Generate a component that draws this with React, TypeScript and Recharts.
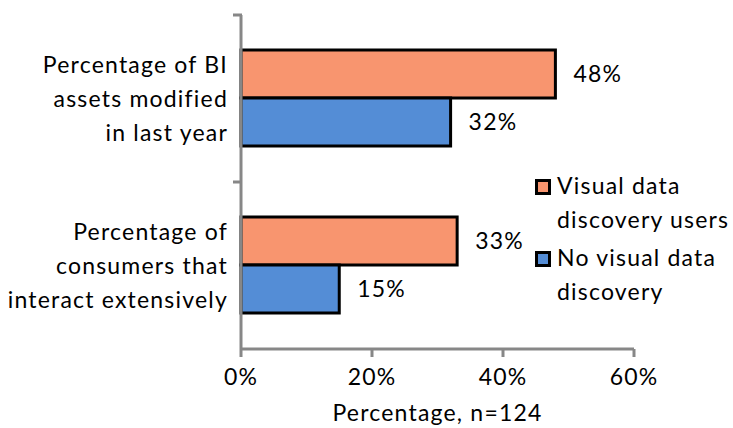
import React from 'react';
import { BarChart, Bar, XAxis, YAxis, Legend, LabelList } from 'recharts';

const categories = [
  ['Percentage of BI', 'assets modified', 'in last year'],
  ['Percentage of', 'consumers that', 'interact extensively'],
];
const visualUsers = [48, 33];
const noVisual = [32, 15];
const seriesNames = ['Visual data discovery users', 'No visual data discovery'];
const legendLines = [
  ['Visual data', 'discovery users'],
  ['No visual data', 'discovery'],
];
const xTicks = [0, 20, 40, 60];

const data = categories.map((c, i) => ({
  name: c.join(' '),
  lines: c,
  v: visualUsers[i],
  n: noVisual[i],
}));

const FONT = 'Lato, "Open Sans", sans-serif';
const FS = 23;
const LS = 1.2;
const AXIS = '#878787';
const COLORS = ['#F8956F', '#548DD6'];

const YTick = (props: any) => {
  const { x, y, index } = props;
  const lines: string[] = categories[index] || [];
  const half = 167 / 2;
  return (
    <g>
      <line x1={x + 5} x2={x + 14} y1={y - half} y2={y - half} stroke={AXIS} strokeWidth={3} />
      <text x={x} y={y} textAnchor="end" fontFamily={FONT} fontSize={FS} letterSpacing={LS} fill="#000">
        {lines.map((l, i) => (
          <tspan key={i} x={x} y={y + (i - 1) * 34} dy="0.35em">{l}</tspan>
        ))}
      </text>
    </g>
  );
};

const LegendContent = () => (
  <div style={{ fontFamily: FONT, fontSize: FS, letterSpacing: LS, color: '#000', lineHeight: '34px' }}>
    {seriesNames.map((s, i) => (
      <div key={s} style={{ position: 'relative', paddingLeft: 24, marginBottom: i === 0 ? 4 : 0 }}>
        <span style={{ position: 'absolute', left: 2, top: 11, width: 10, height: 10, background: COLORS[i], border: '3px solid #000' }} />
        {legendLines[i].map((l) => (<div key={l} style={{ whiteSpace: 'nowrap' }}>{l}</div>))}
      </div>
    ))}
  </div>
);

export default function App() {
  return (
    <div style={{ position: 'absolute', left: 0, top: 0, background: '#fff' }}>
      <BarChart
        width={733}
        height={428}
        data={data}
        layout="vertical"
        margin={{ top: 15, right: 99, left: 0, bottom: 0 }}
        barCategoryGap="21%"
        barGap={0}
      >
        <XAxis
          type="number"
          domain={[0, 60]}
          ticks={xTicks}
          tickFormatter={(v: number) => `${v}%`}
          axisLine={{ stroke: AXIS, strokeWidth: 3 }}
          tickLine={{ stroke: AXIS, strokeWidth: 3 }}
          tickSize={8}
          tickMargin={12}
          height={79}
          tick={{ fontFamily: FONT, fontSize: FS, letterSpacing: LS, fill: '#000' }}
          label={{ value: 'Percentage, n=124', position: 'insideBottom', offset: 7, fontFamily: FONT, fontSize: FS, letterSpacing: LS, fill: '#000' }}
        />
        <YAxis
          type="category"
          dataKey="name"
          width={241}
          axisLine={{ stroke: AXIS, strokeWidth: 3 }}
          tickLine={false}
          tickSize={0}
          tickMargin={13}
          tick={<YTick />}
          interval={0}
        />
        <Legend
          layout="vertical"
          align="center"
          verticalAlign="middle"
          content={<LegendContent />}
          wrapperStyle={{ left: 533, top: 168, width: 200 }}
        />
        <Bar dataKey="v" name={seriesNames[0]} fill={COLORS[0]} stroke="#000" strokeWidth={3} isAnimationActive={false}>
          <LabelList dataKey="v" position="right" offset={18} formatter={(v: any) => `${v}%`} style={{ fontFamily: FONT, fontSize: FS, letterSpacing: LS, fill: '#000' }} />
        </Bar>
        <Bar dataKey="n" name={seriesNames[1]} fill={COLORS[1]} stroke="#000" strokeWidth={3} isAnimationActive={false}>
          <LabelList dataKey="n" position="right" offset={18} formatter={(v: any) => `${v}%`} style={{ fontFamily: FONT, fontSize: FS, letterSpacing: LS, fill: '#000' }} />
        </Bar>
      </BarChart>
    </div>
  );
}
